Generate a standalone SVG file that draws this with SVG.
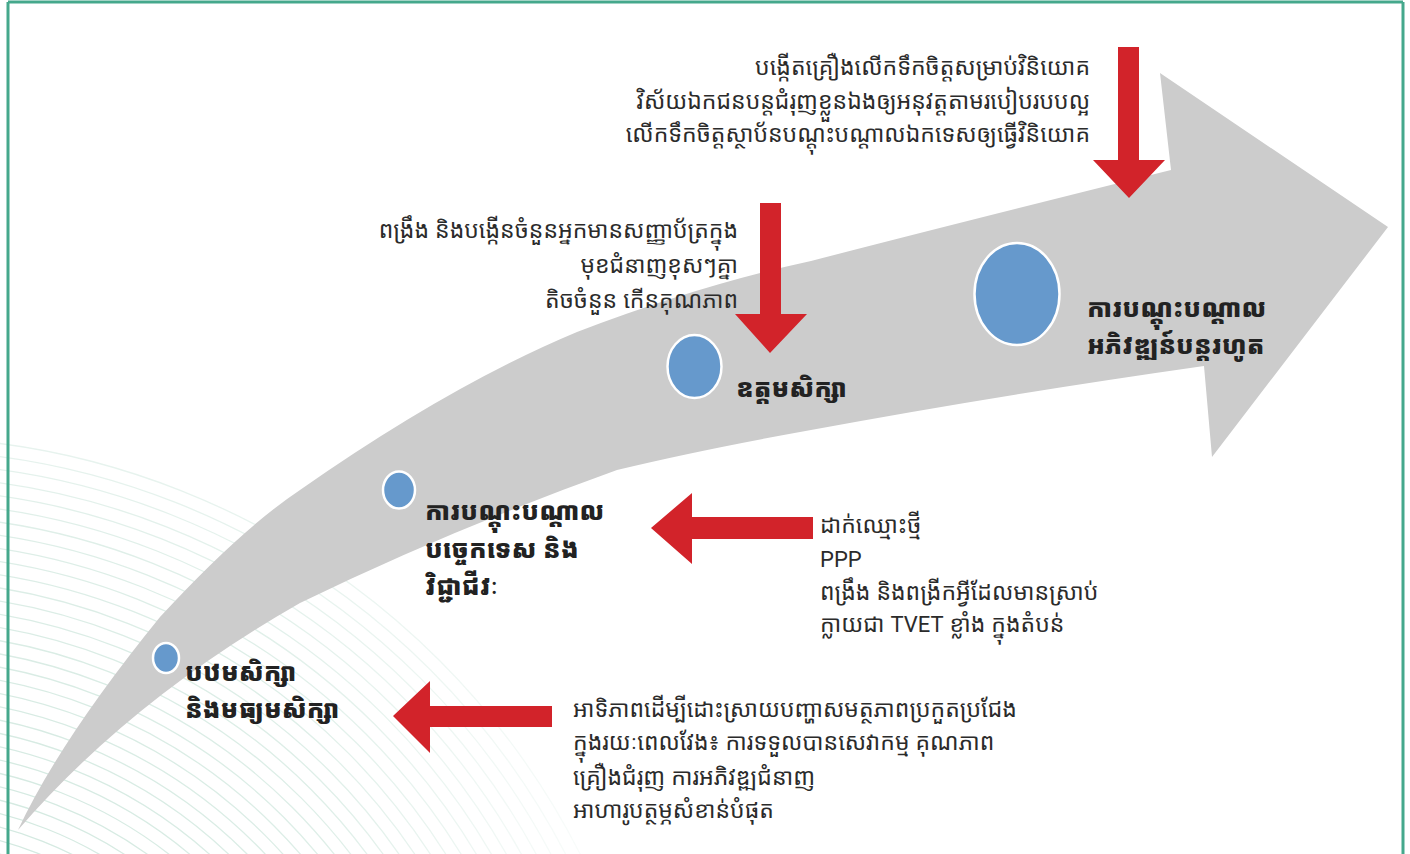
<svg xmlns="http://www.w3.org/2000/svg" width="1410" height="854" viewBox="0 0 1410 854">
<defs>
<style>
.t{font-family:"Noto Sans Khmer","Khmer OS","Noto Sans",sans-serif;font-size:23px;fill:#2b2b2b}
.tr{text-anchor:end}
.b{font-family:"Noto Sans Khmer","Khmer OS","Noto Sans",sans-serif;font-size:25px;font-weight:900;fill:#222}
.lat{font-family:Roboto,"Liberation Sans",sans-serif;font-size:22px}
.dot{fill:#6699cc;stroke:#fff;stroke-width:2.5}
.red{fill:#d2232a}
.arc{fill:none;stroke:#d3e9e0;stroke-width:1.3}
</style>
<radialGradient id="fade" gradientUnits="userSpaceOnUse" cx="0" cy="854" r="640">
<stop offset="0" stop-color="#fff"/>
<stop offset="0.5" stop-color="#fff" stop-opacity="0.75"/>
<stop offset="1" stop-color="#fff" stop-opacity="0"/>
</radialGradient>
<mask id="m"><rect x="0" y="0" width="1410" height="854" fill="url(#fade)"/></mask>
</defs>
<rect x="0" y="0" width="1410" height="854" fill="#fff"/>
<g id="background-arcs" mask="url(#m)">
<circle class="arc" cx="-100" cy="1200" r="360"/>
<circle class="arc" cx="-100" cy="1200" r="373"/>
<circle class="arc" cx="-100" cy="1200" r="386"/>
<circle class="arc" cx="-100" cy="1200" r="399"/>
<circle class="arc" cx="-100" cy="1200" r="412"/>
<circle class="arc" cx="-100" cy="1200" r="425"/>
<circle class="arc" cx="-100" cy="1200" r="438"/>
<circle class="arc" cx="-100" cy="1200" r="451"/>
<circle class="arc" cx="-100" cy="1200" r="464"/>
<circle class="arc" cx="-100" cy="1200" r="477"/>
<circle class="arc" cx="-100" cy="1200" r="490"/>
<circle class="arc" cx="-100" cy="1200" r="503"/>
<circle class="arc" cx="-100" cy="1200" r="516"/>
<circle class="arc" cx="-100" cy="1200" r="529"/>
<circle class="arc" cx="-100" cy="1200" r="542"/>
<circle class="arc" cx="-100" cy="1200" r="555"/>
<circle class="arc" cx="-100" cy="1200" r="568"/>
<circle class="arc" cx="-100" cy="1200" r="581"/>
<circle class="arc" cx="-100" cy="1200" r="594"/>
<circle class="arc" cx="-100" cy="1200" r="607"/>
<circle class="arc" cx="-100" cy="1200" r="620"/>
<circle class="arc" cx="-100" cy="1200" r="633"/>
<circle class="arc" cx="-100" cy="1200" r="646"/>
<circle class="arc" cx="-100" cy="1200" r="659"/>
<circle class="arc" cx="-100" cy="1200" r="672"/>
<circle class="arc" cx="-100" cy="1200" r="685"/>
<circle class="arc" cx="-100" cy="1200" r="698"/>
<circle class="arc" cx="-100" cy="1200" r="711"/>
<circle class="arc" cx="-100" cy="1200" r="724"/>
<circle class="arc" cx="-100" cy="1200" r="737"/>
<circle class="arc" cx="-100" cy="1200" r="750"/>
<circle class="arc" cx="-100" cy="1200" r="763"/>
</g>
<g id="frame" fill="none" stroke="#45a88c" stroke-width="3">
<line x1="8" y1="2" x2="8" y2="854"/>
<line x1="8" y1="2" x2="1403" y2="2"/>
<line x1="1403" y1="2" x2="1403" y2="854"/>
</g>
<g id="big-arrow">
<path fill="#cccccc" d="M18,830 Q60,740 160,617 Q240,530 300,490 Q450,385 577,332 Q700,285 811,261 Q950,225 1171,170 L1160,73 L1388,227 L1212,457 L1204,366 Q1000,395 811,430 Q700,450 617,470 Q450,530 300,603 Q130,700 18,830 Z"/>
</g>
<g id="connectors">
<path class="red" d="M1118,47 H1139 V160 H1165 L1129,198 L1093,160 H1118 Z"/>
<path class="red" d="M760,203 H781 V314 H807 L770,353 L735,314 H760 Z"/>
<path class="red" d="M813,517 V539 H692 V564 L651,528 L692,493 V517 Z"/>
<path class="red" d="M552,706 V727 H430 V753 L393,716 L430,681 V706 Z"/>
</g>
<g id="node-secondary">
<ellipse class="dot" cx="166" cy="658" rx="13" ry="15"/>
<text class="b" x="185" y="681">បឋមសិក្សា</text>
<text class="b" x="185" y="718">និងមធ្យមសិក្សា</text>
</g>
<g id="node-tvet">
<ellipse class="dot" cx="399" cy="490" rx="16" ry="18.5"/>
<text class="b" x="425" y="520">ការបណ្តុះបណ្តាល</text>
<text class="b" x="425" y="558">បច្ចេកទេស និង</text>
<text class="b" x="425" y="595">វិជ្ជាជីវៈ</text>
</g>
<g id="node-higher">
<ellipse class="dot" cx="694.5" cy="366.5" rx="27" ry="31.5"/>
<text class="b" x="736" y="397">ឧត្តមសិក្សា</text>
</g>
<g id="node-lifelong">
<ellipse class="dot" cx="1017" cy="294" rx="42.5" ry="51"/>
<text class="b" x="1087" y="317">ការបណ្តុះបណ្តាល</text>
<text class="b" x="1087" y="354">អភិវឌ្ឍន៍បន្តរហូត</text>
</g>
<g id="note-lifelong">
<text class="t tr" x="1090" y="75">បង្កើតគ្រឿងលើកទឹកចិត្តសម្រាប់វិនិយោគ</text>
<text class="t tr" x="1090" y="109">វិស័យឯកជនបន្តជំរុញខ្លួនឯងឲ្យអនុវត្តតាមរបៀបរបបល្អ</text>
<text class="t tr" x="1090" y="142">លើកទឹកចិត្តស្ថាប័នបណ្តុះបណ្តាលឯកទេសឲ្យធ្វើវិនិយោគ</text>
</g>
<g id="note-higher">
<text class="t tr" x="738" y="238">ពង្រឹង និងបង្កើនចំនួនអ្នកមានសញ្ញាប័ត្រក្នុង</text>
<text class="t tr" x="738" y="273">មុខជំនាញខុសៗគ្នា</text>
<text class="t tr" x="738" y="308">តិចចំនួន កើនគុណភាព</text>
</g>
<g id="note-tvet">
<text class="t" x="820" y="533">ដាក់ឈ្មោះថ្មី</text>
<text class="t lat" x="820" y="567">PPP</text>
<text class="t" x="820" y="600">ពង្រឹង និងពង្រីកអ្វីដែលមានស្រាប់</text>
<text class="t" x="820" y="632">ក្លាយជា <tspan class="lat">TVET</tspan> ខ្លាំង ក្នុងតំបន់</text>
</g>
<g id="note-secondary">
<text class="t" x="573" y="717">អាទិភាពដើម្បីដោះស្រាយបញ្ហាសមត្ថភាពប្រកួតប្រជែង</text>
<text class="t" x="573" y="750">ក្នុងរយៈពេលវែង៖ ការទទួលបានសេវាកម្ម គុណភាព</text>
<text class="t" x="573" y="785">គ្រឿងជំរុញ ការអភិវឌ្ឍជំនាញ</text>
<text class="t" x="573" y="818">អាហារូបត្ថម្ភសំខាន់បំផុត</text>
</g>
</svg>
